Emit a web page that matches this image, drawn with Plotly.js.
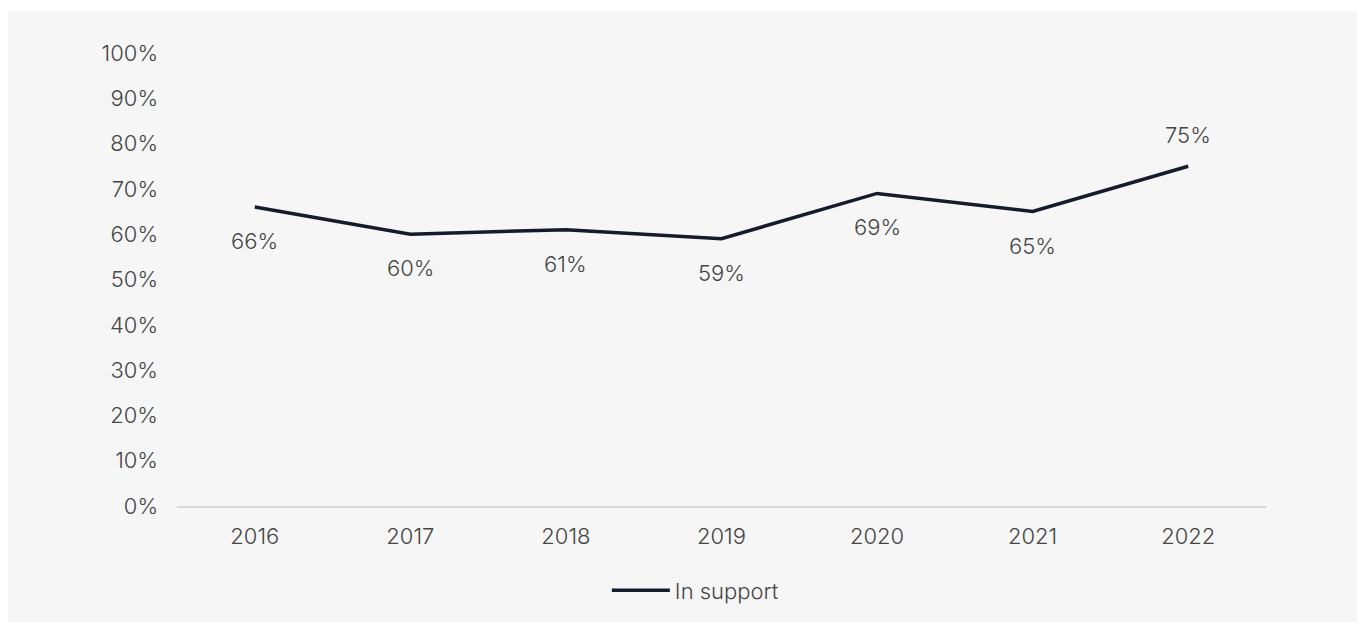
<!DOCTYPE html>
<html>
<head>
<meta charset="utf-8">
<script src="https://cdn.plot.ly/plotly-3.0.1.min.js"></script>
<style>
  html, body { margin: 0; padding: 0; background: #ffffff; }
  #chart { position: absolute; left: 8px; top: 11px; width: 1349px; height: 611px; }
</style>
</head>
<body>
<div id="chart"></div>
<script>
const years = ['2016', '2017', '2018', '2019', '2020', '2021', '2022'];
const inSupport = [66, 60, 61, 59, 69, 65, 75];
const seriesName = 'In support';
const yTickValues = [0, 10, 20, 30, 40, 50, 60, 70, 80, 90, 100];

const FONT = 'Inter, "Noto Sans", sans-serif';
const TEXT_COLOR = '#454545';
const FSIZE = 22;

const trace = {
  type: 'scatter',
  mode: 'lines',
  x: years,
  y: inSupport,
  name: seriesName,
  line: { color: '#141b2b', width: 3.5 },
  showlegend: true,
  hoverinfo: 'x+y'
};

const annotations = inSupport.map((v, i) => ({
  x: i,
  y: v,
  xref: 'x',
  yref: 'y',
  text: v + '%',
  showarrow: false,
  xanchor: 'center',
  yanchor: 'middle',
  yshift: i === inSupport.length - 1 ? 31 : -34,
  font: { family: FONT, size: FSIZE, color: TEXT_COLOR, weight: 300 }
}));

const layout = {
  width: 1349,
  height: 611,
  paper_bgcolor: '#f6f6f6',
  plot_bgcolor: '#f6f6f6',
  margin: { l: 169, r: 91, t: 42, b: 115 },
  font: { family: FONT, size: FSIZE, color: TEXT_COLOR, weight: 300 },
  showlegend: true,
  legend: {
    orientation: 'h',
    x: 0.476,
    xanchor: 'center',
    y: -0.184,
    yanchor: 'middle',
    itemwidth: 58,
    bgcolor: 'rgba(0,0,0,0)',
    font: { family: FONT, size: FSIZE, color: TEXT_COLOR, weight: 300 }
  },
  xaxis: {
    type: 'category',
    range: [-0.5, 6.5],
    showgrid: false,
    zeroline: false,
    showline: true,
    linecolor: '#d9d9d9',
    linewidth: 1.5,
    ticks: '',
    ticklabelstandoff: 10,
    tickfont: { family: FONT, size: FSIZE, color: TEXT_COLOR, weight: 300 },
    fixedrange: true
  },
  yaxis: {
    range: [0, 100],
    tickvals: yTickValues,
    ticktext: yTickValues.map(v => v + '%'),
    showgrid: false,
    zeroline: false,
    showline: false,
    ticks: '',
    ticklabelstandoff: 18,
    tickfont: { family: FONT, size: FSIZE, color: TEXT_COLOR, weight: 300 },
    fixedrange: true
  },
  annotations: annotations
};

Plotly.newPlot('chart', [trace], layout, { displayModeBar: false, staticPlot: true });
</script>
</body>
</html>
